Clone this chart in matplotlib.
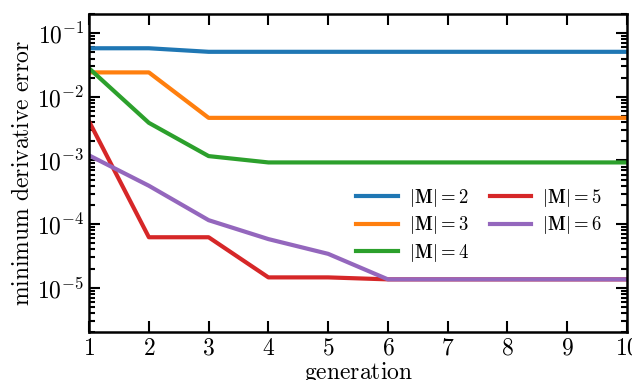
import matplotlib
matplotlib.use("Agg")
import matplotlib.pyplot as plt

plt.rcParams["font.family"] = "serif"
plt.rcParams["font.serif"] = ["cmr10", "DejaVu Serif"]
plt.rcParams["mathtext.fontset"] = "cm"
plt.rcParams["axes.formatter.use_mathtext"] = True

generation = [1, 2, 3, 4, 5, 6, 7, 8, 9, 10]
err_m2 = [0.058, 0.058, 0.051, 0.051, 0.051, 0.051, 0.051, 0.051, 0.051, 0.051]
err_m3 = [0.0242, 0.0242, 0.00467, 0.00467, 0.00467, 0.00467, 0.00467, 0.00467, 0.00467, 0.00467]
err_m4 = [0.028, 0.0039, 0.00117, 0.00093, 0.00093, 0.00093, 0.00093, 0.00093, 0.00093, 0.00093]
err_m5 = [0.0041, 6.2e-5, 6.2e-5, 1.45e-5, 1.45e-5, 1.35e-5, 1.35e-5, 1.35e-5, 1.35e-5, 1.35e-5]
err_m6 = [1.2e-3, 4.0e-4, 1.15e-4, 5.8e-5, 3.4e-5, 1.35e-5, 1.35e-5, 1.35e-5, 1.35e-5, 1.35e-5]
sizes = [2, 3, 4, 5, 6]

fig = plt.figure(figsize=(6.32, 3.8), dpi=100)
ax = fig.add_axes([0.141, 0.126, 0.851, 0.837])

for m, err in zip(sizes, [err_m2, err_m3, err_m4, err_m5, err_m6]):
    ax.plot(generation, err, lw=3, label=r"$|\mathbf{M}|=%d$" % m)

ax.set_yscale("log")
ax.set_xlim(1, 10)
ax.set_ylim(2e-6, 0.2)
ax.set_xticks(generation)
ax.set_xticklabels([r"$%d$" % g for g in generation])
ax.set_xlabel(r"$\mathrm{generation}$", fontsize=17, labelpad=0)
ax.set_ylabel(r"$\mathrm{minimum\ derivative\ error}$", fontsize=17, labelpad=2)

ax.tick_params(which="both", direction="in", top=True, right=True, width=1.5, labelsize=17)
ax.tick_params(axis="x", pad=4)
ax.tick_params(which="major", length=8)
ax.tick_params(which="minor", length=4)
for s in ax.spines.values():
    s.set_linewidth(1.8)

ax.legend(ncol=2, frameon=False, fontsize=13.5, loc="upper right",
          bbox_to_anchor=(0.985, 0.51), handlelength=2.2, columnspacing=1.1,
          labelspacing=0.3, handletextpad=0.6)

fig.savefig("out.png", dpi=100)
